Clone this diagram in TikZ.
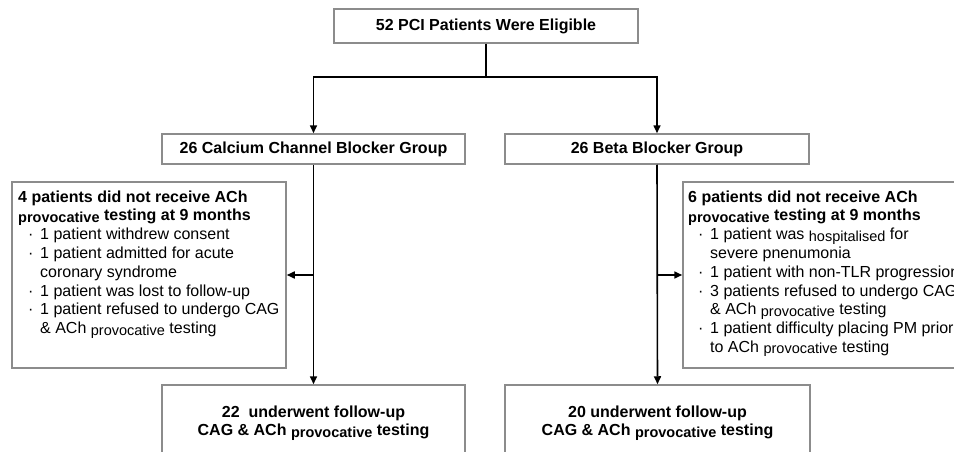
\documentclass[tikz,border=0pt]{standalone}
\usepackage{fontspec}
\setmainfont{Liberation Sans}
\usetikzlibrary{arrows.meta}
\definecolor{boxgray}{HTML}{8C8C8C}
\newcommand\smallword[1]{\raisebox{-1.5pt}{\fontsize{14.5pt}{14.5pt}\selectfont #1}}
\newcommand\bul{\makebox[22pt][l]{\hspace{10pt}·}}
\newcommand\cont{\hspace*{22pt}}
\begin{document}
\begin{tikzpicture}[x=1pt,y=-1pt,
  every node/.style={font=\fontsize{16pt}{18.8pt}\selectfont},
  box/.style={draw=boxgray, line width=1.5pt, fill=white, rectangle, inner sep=0pt},
  txt/.style={inner sep=0pt, anchor=base west},
  conn/.style={line width=1.6pt, black},
  arr/.style={conn, -{Triangle[length=8pt,width=7pt]}}]
\useasboundingbox (0,0) rectangle (954,452);
\begin{scope}
\clip (0,0) rectangle (954,452);
% boxes
\node[box, minimum width=304, minimum height=34, font=\fontsize{16pt}{18.8pt}\selectfont\bfseries] (top) at (486,26) {52 PCI Patients Were Eligible};
\node[box, minimum width=303, minimum height=30, font=\fontsize{16pt}{18.8pt}\selectfont\bfseries] (g1) at (313.5,149) {26 Calcium Channel Blocker Group};
\node[box, minimum width=304, minimum height=30, font=\fontsize{16pt}{18.8pt}\selectfont\bfseries] (g2) at (657,149) {26 Beta Blocker Group};
\node[box, minimum width=274, minimum height=186] (ex1) at (149,275) {};
\node[box, minimum width=320, minimum height=186] (ex2) at (843,275) {};
\node[box, minimum width=303, minimum height=100] (b1) at (313.5,435) {};
\node[box, minimum width=305, minimum height=100] (b2) at (657.5,435) {};
% texts
\node[txt] (t1) at (18,202) {\parbox[t]{300pt}{%
{\bfseries 4 patients did not receive ACh\\
\smallword{provocative} testing at 9 months}\\
\bul 1 patient withdrew consent\\
\bul 1 patient admitted for acute\\
\cont coronary syndrome\\
\bul 1 patient was lost to follow-up\\
\bul 1 patient refused to undergo CAG\\
\cont \& ACh \smallword{provocative} testing}};
\node[txt] (t2) at (688,202) {\parbox[t]{320pt}{%
{\bfseries 6 patients did not receive ACh\\
\smallword{provocative} testing at 9 months}\\
\bul 1 patient was \smallword{hospitalised} for\\
\cont severe pnenumonia\\
\bul 1 patient with non-TLR progression\\
\bul 3 patients refused to undergo CAG\\
\cont \& ACh \smallword{provocative} testing\\
\bul 1 patient difficulty placing PM prior\\
\cont to ACh \smallword{provocative} testing}};
\node[inner sep=0pt, anchor=base] (t3) at (313.5,417) {\parbox[t]{300pt}{\centering\bfseries
22\ \ underwent follow-up\\
CAG \& ACh \smallword{provocative} testing}};
\node[inner sep=0pt, anchor=base] (t4) at (657.5,417) {\parbox[t]{300pt}{\centering\bfseries
20 underwent follow-up\\
CAG \& ACh \smallword{provocative} testing}};
% connectors
\coordinate (j) at (486,77);
\draw[conn] (top.south) -- (j);
\draw[arr] (j) -| (g1.north);
\draw[arr] (j) -| (g2.north);
\draw[arr] (g1.south) -- (b1.north);
\draw[arr] (g2.south) -- (b2.north);
\draw[arr] (g1.south |- ex1.east) -- (ex1.east);
\draw[arr] (g2.south |- ex2.west) -- (ex2.west);
\end{scope}
\end{tikzpicture}
\end{document}
